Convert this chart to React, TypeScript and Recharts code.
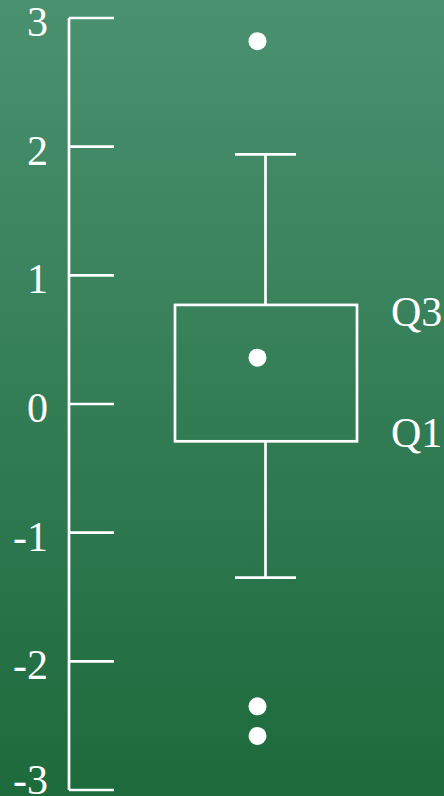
import React from "react";
import { ComposedChart, Bar, Scatter, XAxis, YAxis } from "recharts";

if (typeof document !== "undefined") {
  document.body.style.margin = "0";
}

// ---- data ----
const categories = ["A"];
const q1Values = [-0.29];
const q3Values = [0.77];
const whiskerLow = [-1.35];
const whiskerHigh = [1.94];
const meanValues = [0.36];
const outlierValues = [2.82, -2.35, -2.58];
const yTicks = [3, 2, 1, 0, -1, -2, -3];
const quartileLabels = ["Q1", "Q3"];

const W = 444;
const H = 796;
const TOP = "#4a9170";
const BOTTOM = "#1d6a3c";
const FONT = '"Liberation Serif", "Times New Roman", serif';
const SW = 2.7;

const tableData = categories.map((name, i) => ({
  name,
  box: [q1Values[i], q3Values[i]],
  whisker: [whiskerLow[i], whiskerHigh[i]],
}));

const pointData = [
  ...meanValues.map((v, i) => ({ name: categories[i], v })),
  ...outlierValues.map((v) => ({ name: categories[0], v })),
];

const BoxShape = (props: any) => {
  const { x, y, width, height } = props;
  const top = Math.min(y, y + height);
  const h = Math.abs(height);
  return (
    <g>
      <defs>
        <linearGradient id="bgGrad" gradientUnits="userSpaceOnUse" x1="0" y1="0" x2="0" y2={H}>
          <stop offset="0" stopColor={TOP} />
          <stop offset="1" stopColor={BOTTOM} />
        </linearGradient>
      </defs>
      <rect x={x} y={top} width={width} height={h} fill="url(#bgGrad)" stroke="#fff" strokeWidth={SW} />
      <text x={x + width + 34} y={top + 21.5} fill="#fff" fontFamily={FONT} fontSize={42}>
        {quartileLabels[1]}
      </text>
      <text x={x + width + 34} y={top + h + 5.5} fill="#fff" fontFamily={FONT} fontSize={42}>
        {quartileLabels[0]}
      </text>
    </g>
  );
};

const WhiskerShape = (props: any) => {
  const { x, y, width, height } = props;
  const top = Math.min(y, y + height);
  const bottom = Math.max(y, y + height);
  const cx = x + width / 2;
  return (
    <g stroke="#fff" strokeWidth={SW}>
      <line x1={cx} y1={top} x2={cx} y2={bottom} />
      <line x1={x} y1={top} x2={x + width} y2={top} />
      <line x1={x} y1={bottom} x2={x + width} y2={bottom} />
    </g>
  );
};

const DotShape = (props: any) => <circle cx={props.cx} cy={props.cy} r={9} fill="#fff" />;

const YTick = (props: any) => {
  const { x, y, payload } = props;
  return (
    <g>
      <line x1={x} y1={y} x2={x + 45} y2={y} stroke="#fff" strokeWidth={SW} />
      <text x={x - 21} y={Math.min(y + 18, H - 2)} textAnchor="end" fill="#fff" fontFamily={FONT} fontSize={42}>
        {payload.value}
      </text>
    </g>
  );
};

export default function App() {
  return (
    <div
      style={{
        width: W,
        height: H,
        overflow: "hidden",
        background: `linear-gradient(to bottom, ${TOP}, ${BOTTOM})`,
      }}
    >
      <ComposedChart width={W} height={H} data={tableData} margin={{ top: 18, right: 0, bottom: 6, left: 9 }}>
        <XAxis xAxisId="whisker" dataKey="name" type="category" hide padding={{ left: 18, right: 0 }} />
        <XAxis xAxisId="box" dataKey="name" type="category" hide padding={{ left: 18, right: 0 }} />
        <XAxis
          xAxisId="pts"
          dataKey="name"
          type="category"
          hide
          allowDuplicatedCategory={false}
          padding={{ left: 2, right: 0 }}
        />
        <YAxis
          type="number"
          domain={[-3, 3]}
          ticks={yTicks}
          interval={0}
          width={60}
          axisLine={{ stroke: "#fff", strokeWidth: SW }}
          tickLine={false}
          tickSize={0}
          tickMargin={0}
          tick={<YTick />}
        />
        <Bar xAxisId="whisker" dataKey="whisker" barSize={61} shape={<WhiskerShape />} isAnimationActive={false} />
        <Bar xAxisId="box" dataKey="box" barSize={182} shape={<BoxShape />} isAnimationActive={false} />
        <Scatter xAxisId="pts" data={pointData} dataKey="v" shape={<DotShape />} isAnimationActive={false} />
      </ComposedChart>
    </div>
  );
}
